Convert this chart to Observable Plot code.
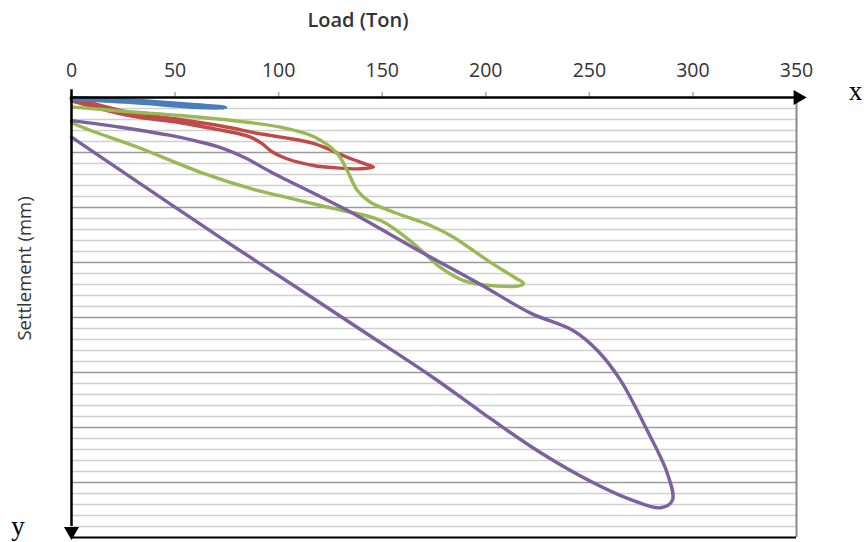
<!DOCTYPE html>
<html>
<head>
<meta charset="utf-8">
<script src="https://cdn.jsdelivr.net/npm/d3@7"></script>
<script src="https://cdn.jsdelivr.net/npm/@observablehq/plot@0.6"></script>
<style>
  body { margin: 0; background: #fff; }
  #chart svg { display: block; }
</style>
</head>
<body>
<div id="chart"></div>
<script>
// ---- Axis / tick data ----
const xTicks = [0, 50, 100, 150, 200, 250, 300, 350];
const xDomain = [0, 350];
const yDomain = [0, 40];
const gridMinor = d3.range(1, 40).filter(d => d % 5 !== 0);
const gridMajor = [5, 10, 15, 20, 25, 30, 35];

// ---- Series (load in Ton, settlement in mm; loading then unloading) ----
const seriesNames = ["Red", "Green", "Purple", "Blue"];
const seriesColors = ["#BE4B48", "#98B954", "#7D60A0", "#4A7EBB"];

const blueLoad   = [0, 28, 60, 74.3, 60, 28, 0];
const blueSettle = [0.05, 0.25, 0.68, 0.93, 0.86, 0.4, 0.12];

const redLoad   = [0, 27.8, 52.6, 76.8, 88, 101, 116.8, 133.1, 142, 145.8, 139.5, 128, 116.8, 104, 97, 92, 87, 80, 70, 52.6, 27.8, 0];
const redSettle = [0, 1.35, 2.0, 2.75, 3.2, 3.6, 4.18, 5.43, 6.05, 6.33, 6.48, 6.4, 6.18, 5.57, 4.95, 4.2, 3.65, 3.25, 2.9, 2.3, 1.65, 0.3];

const greenLoad   = [0, 27.8, 52.6, 84.8, 100.9, 116.8, 128.3, 133.1, 138, 144.3, 157, 173.3, 184.4, 200.8, 213.4, 218.2, 216.8, 205.6, 189.2, 178.1, 165.1, 149.2, 129.9, 120.2, 100.9, 87.9, 63.7, 31.7, 9.2, 0];
const greenSettle = [0.85, 1.3, 1.64, 2.25, 2.7, 3.55, 5.09, 6.64, 8.45, 9.52, 10.52, 11.64, 12.7, 14.8, 16.3, 16.9, 17.09, 17.15, 16.64, 15.45, 13.27, 11.18, 10.23, 9.82, 8.95, 8.36, 6.9, 4.5, 3.0, 2.3];

const purpleLoad   = [0, 23.7, 47.8, 60, 72, 84, 96, 120, 133.1, 169.9, 197.5, 221.6, 242.3, 253.9, 265, 278, 287.7, 290.1, 284.4, 270, 245.7, 221.6, 197.5, 174.9, 142.8, 110.6, 80, 47.8, 0];
const purpleSettle = [2.1, 2.7, 3.45, 3.95, 4.55, 5.5, 6.75, 9.0, 10.25, 14.15, 17.0, 19.6, 21.2, 23.0, 25.7, 30.3, 34.2, 36.6, 37.3, 36.55, 34.4, 31.7, 28.55, 25.5, 21.5, 17.5, 13.75, 9.7, 3.6];

const seriesLoads = [redLoad, greenLoad, purpleLoad, blueLoad];
const seriesSettles = [redSettle, greenSettle, purpleSettle, blueSettle];
const seriesWidths = [3.4, 3.4, 3.4, 4.2];

// ---- Text ----
const xLabel = "Load (Ton)";
const yLabel = "Settlement (mm)";

const lineMarks = seriesNames.map((name, k) => {
  const rows = seriesLoads[k].map((x, i) => ({ series: name, x, y: seriesSettles[k][i] }));
  return Plot.line(rows, {
    x: "x", y: "y",
    stroke: seriesColors[k],
    strokeWidth: seriesWidths[k],
    curve: "catmull-rom",
    strokeLinecap: "round",
    strokeLinejoin: "round"
  });
});

const chart = Plot.plot({
  width: 865,
  height: 542,
  marginTop: 97,
  marginLeft: 71,
  marginRight: 69,
  marginBottom: 5,
  style: { fontFamily: "'Open Sans', sans-serif", background: "#fff" },
  x: { domain: xDomain, axis: null },
  y: { domain: yDomain, reverse: true, axis: null },
  marks: [
    Plot.ruleY(gridMinor, { stroke: "#d0d0d0", strokeWidth: 1.6 }),
    Plot.ruleY(gridMajor, { stroke: "#9a9a9a", strokeWidth: 1.6 }),
    Plot.ruleX([xDomain[1]], { stroke: "#8a8a8a", strokeWidth: 2 }),
    Plot.ruleY([yDomain[1]], { stroke: "#000", strokeWidth: 2 }),
    Plot.axisX(xTicks, {
      anchor: "top", tickSize: 6, tickPadding: 15,
      stroke: "#a8a8a8", strokeWidth: 1.5,
      fill: "#333", fontSize: 19.5, label: null
    }),
    ...lineMarks,
    // axis lines with arrow heads
    Plot.ruleY([0], { x1: 0, x2: 353, stroke: "#000", strokeWidth: 2.5 }),
    Plot.ruleX([0], { y1: -0.7, y2: 39, stroke: "#000", strokeWidth: 2.5 }),
    Plot.dot([xDomain[1]], { x: d => d, y: () => 0, symbol: "triangle", rotate: 90, r: 5.6, fill: "#000", stroke: null, dx: 1.5 }),
    Plot.dot([yDomain[1]], { x: () => 0, y: d => d, symbol: "triangle", rotate: 180, r: 5.6, fill: "#000", stroke: null, dy: -6.2 }),
    // labels
    Plot.text([xLabel], { frameAnchor: "top", dx: -76, dy: -77, lineAnchor: "middle", textAnchor: "middle", fontSize: 20, fontWeight: 600, fill: "#333", text: d => d }),
    Plot.text([yLabel], { frameAnchor: "left", rotate: -90, dx: -46, dy: -49, lineAnchor: "middle", textAnchor: "middle", fontSize: 18.5, fill: "#333", text: d => d }),
    Plot.text(["x"], { frameAnchor: "top-right", dx: 59, dy: -6, lineAnchor: "middle", textAnchor: "middle", fontSize: 27, fontFamily: "'Liberation Serif', serif", fill: "#000", text: d => d }),
    Plot.text(["y"], { frameAnchor: "bottom-left", dx: -53.5, dy: -11, lineAnchor: "middle", textAnchor: "middle", fontSize: 27, fontFamily: "'Liberation Serif', serif", fill: "#000", text: d => d })
  ]
});

document.getElementById("chart").appendChild(chart);
</script>
</body>
</html>
